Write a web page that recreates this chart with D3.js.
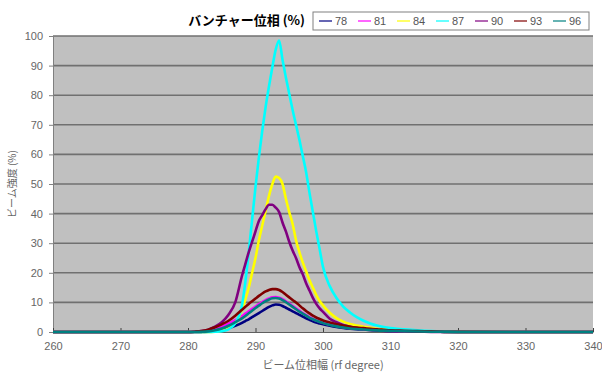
<!DOCTYPE html>
<meta charset="UTF-8">
<style>
	body { margin: 0; background: #fff; }
	text { font-family: "Liberation Sans", Arial, "Noto Sans CJK JP", sans-serif; }
	.tick text { fill: #666; font-size: 11px; }
	.grid line { stroke: #707070; stroke-width: 1.6px; }
	.series { fill: none; stroke-width: 2.6px; stroke-linejoin: round; }
</style>

<body>
	<script src="https://d3js.org/d3.v7.min.js"></script>
	<script>

		// phase (rf degree) sample points shared by all series
		const phase = [260, 270,
			280, 281, 282, 283, 284, 285, 286, 287, 288,
			288.5, 289, 289.5, 290, 290.5, 291, 291.5, 292, 292.5, 293, 293.5, 294,
			294.5, 295, 295.5, 296, 296.5, 297, 297.5, 298, 298.5, 299, 299.5, 300,
			301, 302, 303, 304, 305, 306, 307, 308, 309, 310, 311, 312,
			314, 316, 318, 320, 330, 340];

		const buncherPhase = ["78", "81", "84", "87", "90", "93", "96"];
		const colors = ["#000080", "#ff00ff", "#ffff00", "#00ffff", "#800080", "#800000", "#008080"];

		// beam intensity (%) for each buncher phase
		const s78 = [0, 0,
			0, 0, 0, 0.1, 0.3, 0.7, 1.3, 2.1, 3.1,
			3.7, 4.3, 5.0, 5.7, 6.4, 7.1, 7.8, 8.5, 9.0, 9.3, 9.2, 8.8,
			8.2, 7.6, 7.0, 6.4, 5.8, 5.2, 4.6, 4.1, 3.6, 3.2, 2.9, 2.6,
			2.1, 1.7, 1.4, 1.15, 0.95, 0.8, 0.65, 0.55, 0.45, 0.38, 0.32, 0.27,
			0.18, 0.1, 0.05, 0, 0, 0];
		const s81 = [0, 0,
			0, 0, 0.1, 0.4, 0.9, 1.7, 2.8, 4.0, 5.4,
			6.2, 7.0, 7.8, 8.6, 9.4, 10.1, 10.8, 11.3, 11.7, 11.8, 11.6, 11.1,
			10.4, 9.6, 8.8, 8.0, 7.2, 6.4, 5.7, 5.0, 4.4, 3.9, 3.5, 3.1,
			2.5, 2.0, 1.6, 1.3, 1.1, 0.9, 0.75, 0.6, 0.5, 0.4, 0.35, 0.3,
			0.2, 0.1, 0.05, 0, 0, 0];
		const s84 = [0, 0,
			0, 0, 0, 0, 0.1, 0.4, 1.2, 3, 7.5,
			11, 15, 20, 25, 31, 36, 41, 46, 50, 52.5, 52, 50,
			45, 40.5, 36.5, 31, 27, 23.5, 20.5, 17.5, 15, 12.5, 10.5, 9,
			6.5, 4.7, 3.5, 2.7, 2.2, 1.8, 1.4, 1.1, 0.8, 0.6, 0.4, 0.3,
			0.2, 0.1, 0.05, 0, 0, 0];
		const s87 = [0, 0,
			0, 0, 0, 0, 0.1, 0.3, 0.9, 3, 9,
			17, 27, 38, 49, 59, 68, 76, 83, 89.5, 95.5, 98.5, 92,
			86, 80.5, 75, 70, 65, 59.5, 54, 47, 40.5, 34, 28, 22,
			15.5, 11.5, 8.6, 6.6, 5.0, 3.8, 2.9, 2.2, 1.7, 1.35, 1.1, 0.9,
			0.55, 0.3, 0.15, 0.05, 0, 0];
		const s90 = [0, 0,
			0, 0.1, 0.3, 0.8, 1.8, 3.3, 5.8, 10, 19,
			23, 27, 30.5, 34, 37.5, 39.5, 41.5, 43, 43, 42, 40.5, 37,
			34, 30.5, 27.5, 25, 22, 19.5, 16.5, 14, 11.5, 9.5, 8, 6.8,
			4.5, 3.3, 2.4, 1.8, 1.3, 1.0, 0.7, 0.5, 0.35, 0.25, 0.2, 0.15,
			0.1, 0.05, 0, 0, 0, 0];
		const s93 = [0, 0,
			0, 0.1, 0.3, 0.8, 1.6, 2.6, 3.8, 5.5, 7.5,
			8.5, 9.5, 10.4, 11.3, 12.2, 13, 13.7, 14.2, 14.5, 14.5, 14.2, 13.5,
			12.6, 11.7, 10.8, 10, 9, 8, 7.1, 6.3, 5.5, 4.9, 4.4, 3.9,
			3.2, 2.6, 2.2, 1.8, 1.5, 1.3, 1.1, 0.9, 0.75, 0.6, 0.5, 0.4,
			0.3, 0.2, 0.1, 0.05, 0, 0];
		const s96 = [0, 0,
			0, 0, 0.05, 0.2, 0.6, 1.2, 2.1, 3.3, 4.6,
			5.4, 6.3, 7.2, 8.1, 8.9, 9.7, 10.4, 11.0, 11.4, 11.5, 11.3, 10.8,
			10.1, 9.3, 8.5, 7.7, 6.9, 6.2, 5.5, 4.8, 4.3, 3.8, 3.4, 3.0,
			2.4, 1.9, 1.5, 1.2, 1.0, 0.85, 0.7, 0.55, 0.45, 0.38, 0.32, 0.27,
			0.18, 0.1, 0.05, 0, 0, 0];
		const seriesValues = [s78, s81, s84, s87, s90, s93, s96];

		const xTicks = [260, 270, 280, 290, 300, 310, 320, 330, 340];
		const yTicks = [0, 10, 20, 30, 40, 50, 60, 70, 80, 90, 100];

		var width = 602, height = 373,
			plot = { left: 53, right: 593, top: 36, bottom: 332 };

		var svg = d3.select("body").append("svg")
			.attr("width", width)
			.attr("height", height);

		const x = d3.scaleLinear().domain([260, 340]).range([plot.left, plot.right]);
		const y = d3.scaleLinear().domain([0, 100]).range([plot.bottom, plot.top]);

		// gray plot area
		svg.append("rect")
			.attr("x", plot.left)
			.attr("y", plot.top)
			.attr("width", plot.right - plot.left)
			.attr("height", plot.bottom - plot.top)
			.attr("fill", "#c0c0c0");

		// horizontal grid lines
		svg.append("g")
			.attr("class", "grid")
			.selectAll("line")
			.data(yTicks.filter(d => d > 0))
			.enter().append("line")
			.attr("x1", plot.left)
			.attr("x2", plot.right)
			.attr("y1", d => y(d))
			.attr("y2", d => y(d));

		// y axis
		const yAxis = svg.append("g")
			.attr("transform", `translate(${plot.left},0)`)
			.call(d3.axisLeft(y).tickValues(yTicks).tickSize(4).tickPadding(6));
		yAxis.select(".domain").attr("stroke", "#808080");
		yAxis.selectAll(".tick line").attr("stroke", "#808080");

		// x axis, ticks pointing into the plot
		const xAxis = svg.append("g")
			.attr("transform", `translate(0,${plot.bottom})`)
			.call(d3.axisBottom(x).tickValues(xTicks).tickSizeInner(-4).tickSizeOuter(0).tickPadding(10));
		xAxis.select(".domain").attr("stroke", "#606060");
		xAxis.selectAll(".tick line").attr("stroke", "#404040");

		// series lines
		const line = d3.line()
			.x((d, i) => x(phase[i]))
			.y(d => y(d))
			.curve(d3.curveMonotoneX);

		svg.append("g")
			.selectAll("path")
			.data(seriesValues)
			.enter().append("path")
			.attr("class", "series")
			.attr("stroke", (d, i) => colors[i])
			.attr("d", line);

		// title
		svg.append("text")
			.attr("x", 305)
			.attr("y", 25)
			.attr("text-anchor", "end")
			.style("font-family", "'Noto Sans CJK JP', sans-serif")
			.style("font-weight", "bold")
			.style("font-size", "13px")
			.text("バンチャー位相 (%)");

		// legend
		const legend = svg.append("g").attr("transform", "translate(313,12)");
		legend.append("rect")
			.attr("width", 276)
			.attr("height", 18)
			.attr("fill", "#fff")
			.attr("stroke", "#808080");
		const item = legend.selectAll("g.item")
			.data(buncherPhase)
			.enter().append("g")
			.attr("class", "item")
			.attr("transform", (d, i) => `translate(${6 + i * 39},9)`);
		item.append("line")
			.attr("x1", 0).attr("x2", 13)
			.attr("stroke", (d, i) => colors[i])
			.attr("stroke-width", 1.2);
		item.append("text")
			.attr("x", 16)
			.attr("dy", "0.35em")
			.attr("fill", "#555")
			.style("font-size", "11px")
			.text(d => d);

		// axis titles
		svg.append("text")
			.attr("x", (plot.left + plot.right) / 2)
			.attr("y", 369)
			.attr("text-anchor", "middle")
			.attr("fill", "#666")
			.style("font-family", "'Noto Sans CJK JP', sans-serif")
			.style("font-size", "11px")
			.text("ビーム位相幅 (rf degree)");

		svg.append("text")
			.attr("transform", `translate(16,${(plot.top + plot.bottom) / 2}) rotate(-90)`)
			.attr("text-anchor", "middle")
			.attr("fill", "#666")
			.style("font-family", "'Noto Sans CJK JP', sans-serif")
			.style("font-size", "10px")
			.text("ビーム強度 (%)");

	</script>
</body>
